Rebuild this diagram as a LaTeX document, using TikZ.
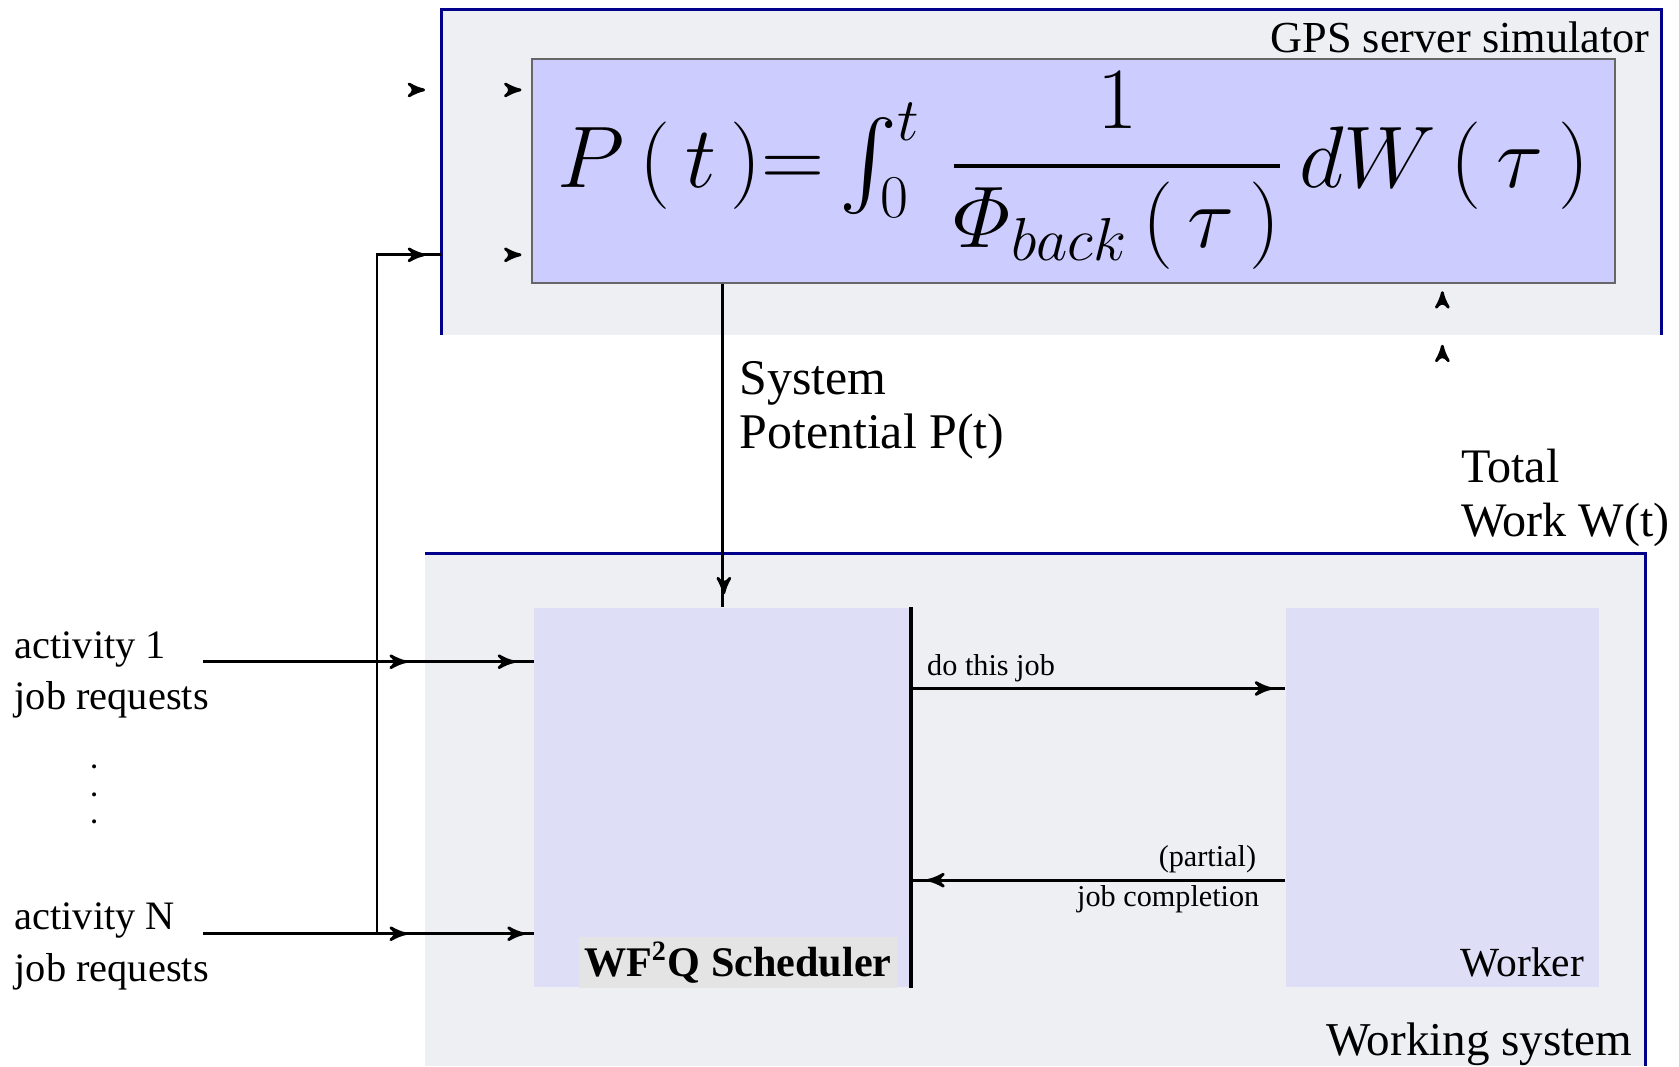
\documentclass[tikz,border=0pt]{standalone}
\usepackage{fontspec}
\setmainfont{Liberation Serif}
\usepackage{xcolor}
\usepackage{amsmath}
\usepackage{tikz}
\usetikzlibrary{calc}
\usetikzlibrary{arrows}
\definecolor{boxgrey}{RGB}{238,239,243}
\definecolor{frameblue}{RGB}{0,0,140}
\definecolor{formulablue}{RGB}{204,204,255}
\definecolor{unitblue}{RGB}{222,222,246}
\definecolor{labelgrey}{RGB}{228,228,228}
\newlength\pxu
\setlength\pxu{0.10708mm}
\tikzset{link/.style={line width=.8pt}}
\tikzset{frame/.style={frameblue, line width=.9pt}}
\tikzset{unitbox/.style={fill=unitblue, minimum height=354\pxu, inner sep=0}}
\tikzset{smalltext/.style={font=\fontsize{8.6}{10}\selectfont, inner sep=1pt}}
\newcommand{\tipat}[2]{\draw[link,->] (#1) -- ++(#2);}

\begin{document}
\begin{tikzpicture}[x=\pxu, y=\pxu, yscale=-1, >=stealth']
\useasboundingbox (0,0) rectangle (1568,996);
\fill[boxgrey] (412,9) rectangle (1552,313);
\draw[frame] (412,313) -- (412,9) -- (1552,9) -- (1552,313);
\fill[boxgrey] (397,517) rectangle (1537,996);
\draw[frame] (397,517) -- (1537,517) -- (1537,996);

\node[fill=formulablue, draw=black!60, line width=.5pt, minimum width=1011\pxu, minimum height=209\pxu, inner sep=0] (potential) at (1002.5,159.5)
  {\fontsize{27}{32}\selectfont $P\,(\,t\,){=}\textstyle\int_0^t\,\displaystyle\frac{1}{\varPhi_{back}\,(\,\tau\,)}\,dW\,(\,\tau\,)$};
\node[anchor=east, font=\fontsize{12.6}{15}\selectfont] (gpslabel) at (1552,35) {GPS server simulator};

\node[unitbox, minimum width=351\pxu] (sched) at (674.5,745) {};
\node[unitbox, minimum width=292\pxu] (worker) at (1347,745) {};
\draw[line width=1.2pt] (sched.north east) -- (sched.south east);
\node[fill=labelgrey, inner sep=1.5pt, font=\bfseries\fontsize{12}{14}\selectfont] (schedlabel) at (689,899) {WF\textsuperscript{2}Q Scheduler};
\node[anchor=east, font=\fontsize{11.8}{14}\selectfont] (workerlabel) at (1491,899) {Worker};
\node[anchor=east, font=\fontsize{13.4}{15}\selectfont] (worklabel) at (1536,975) {Working system};

\node[anchor=west, align=left, font=\fontsize{14.2}{15.5}\selectfont] (potlabel) at (679,383) {System\\Potential P(t)};
\node[anchor=west, align=left, font=\fontsize{13.7}{15.2}\selectfont] (totlabel) at (1353,465) {Total\\Work W(t)};
\node[anchor=west, align=left, font=\fontsize{11.5}{14.6}\selectfont] (act1) at (2,630) {activity 1\\job requests};
\node[anchor=west, align=left, font=\fontsize{11.5}{14.6}\selectfont] (actN) at (2,884) {activity N\\job requests};
\foreach \i/\y in {1/716, 2/742, 3/768}
  \node[inner sep=0, font=\bfseries\fontsize{7}{7}\selectfont] (dot\i) at (88,\y) {.};

\coordinate (in1) at (190,618);
\coordinate (inN) at (190,872);
\coordinate (bus) at (352,238);
\coordinate (gpsin) at (412,238);
\draw[link] (in1) -- (sched.west |- in1);
\draw[link] (inN) -- (sched.west |- inN);
\draw[link] (bus |- inN) -- (bus) -- (gpsin);
\draw[link] (potential.south -| sched.north) -- (sched.north);
\draw[link] ($(sched.east)+(0,-102)$) -- ($(worker.west)+(0,-102)$);
\draw[link] ($(worker.west)+(0,77)$) -- ($(sched.east)+(0,77)$);
\node[smalltext, anchor=west] (dojob) at (862,624) {do this job};
\node[smalltext, anchor=east] (partial) at (1177,802) {(partial)};
\node[smalltext, anchor=east] (complete) at (1180,840) {job completion};

\tipat{389,84}{8,0} \tipat{479,84}{8,0}
\tipat{389,238}{8,0} \tipat{479,238}{8,0}
\tipat{372,618}{8,0} \tipat{473,618}{8,0}
\tipat{372,872}{8,0} \tipat{482,872}{8,0}
\tipat{1180,643}{8,0} \tipat{874,822}{-8,0}
\tipat{676,547}{0,8}
\tipat{1347,280}{0,-8} \tipat{1347,330}{0,-8}
\end{tikzpicture}
\end{document}
